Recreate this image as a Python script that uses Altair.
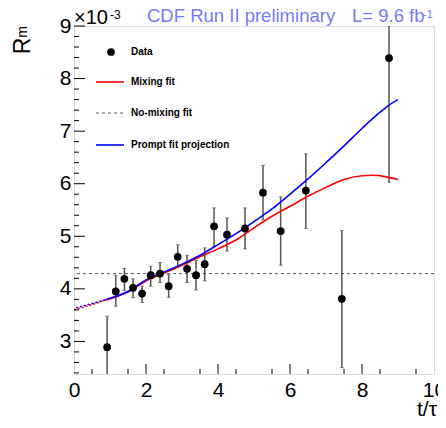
import altair as alt
import pandas as pd

# ---- data (values in units of 1e-3) ----
t_data = [0.92, 1.16, 1.40, 1.64, 1.89, 2.13, 2.39, 2.63, 2.88, 3.14,
          3.39, 3.63, 3.89, 4.25, 4.75, 5.25, 5.74, 6.44, 7.44, 8.75]
r_data = [2.89, 3.95, 4.19, 4.02, 3.91, 4.26, 4.29, 4.05, 4.61, 4.38,
          4.26, 4.47, 5.19, 5.03, 5.15, 5.83, 5.10, 5.87, 3.81, 8.39]
r_lo = [2.30, 3.67, 3.97, 3.83, 3.74, 4.05, 4.12, 3.84, 4.42, 4.12,
        3.98, 4.15, 4.81, 4.72, 4.76, 5.31, 4.45, 5.15, 2.50, 6.03]
r_hi = [3.48, 4.26, 4.39, 4.19, 4.05, 4.43, 4.50, 4.27, 4.84, 4.64,
        4.54, 4.78, 5.54, 5.35, 5.54, 6.35, 5.75, 6.57, 5.11, 10.75]

blue_t = [0.9, 1.5, 2.0, 2.5, 3.0, 3.5, 4.0, 4.5, 5.0, 5.5, 6.0, 6.5, 7.0, 7.5, 8.0, 8.5, 8.8, 9.0]
blue_r = [3.80, 3.95, 4.17, 4.32, 4.47, 4.64, 4.84, 5.05, 5.28, 5.52, 5.80, 6.09, 6.40, 6.72, 7.05, 7.36, 7.52, 7.60]
blue_dot_t = [0.0, 0.45, 0.9]
blue_dot_r = [3.63, 3.71, 3.80]

red_t = [0.9, 1.5, 2.0, 2.5, 3.0, 3.5, 4.0, 4.5, 5.0, 5.5, 6.0, 6.5, 7.0, 7.5, 8.0, 8.3, 8.6, 9.0]
red_r = [3.79, 3.94, 4.15, 4.30, 4.45, 4.61, 4.76, 4.93, 5.16, 5.38, 5.57, 5.76, 5.93, 6.08, 6.15, 6.16, 6.14, 6.08]
red_dot_t = [0.0, 0.45, 0.9]
red_dot_r = [3.60, 3.69, 3.79]

nomix_r = [4.29]

x_major = [0, 2, 4, 6, 8, 10]
y_major = [3, 4, 5, 6, 7, 8, 9]
x_minor = [i * 0.5 for i in range(1, 20) if i % 2 == 1]
y_minor = [round(2.4 + i * 0.2, 2) for i in range(0, 34) if abs(round(2.4 + i * 0.2, 2) % 1) > 1e-6]

legend_labels = ["Data", "Mixing fit", "No-mixing fit", "Prompt fit projection"]

W, H = 360, 348
FONT = "Liberation Sans"
xs = alt.Scale(domain=[0, 10], nice=False, zero=False)
ys = alt.Scale(domain=[2.38, 9.0], nice=False, zero=False)

pts = pd.DataFrame({"t": t_data, "r": r_data, "lo": r_lo, "hi": r_hi})

X = alt.X("t:Q", scale=xs,
          axis=alt.Axis(values=x_major, labelFontSize=21, labelFont=FONT, labelColor="black",
                        ticks=False, domain=False, grid=False, labelPadding=5,
                        labelFlush=False, labelOverlap=False, title=None))
Y = alt.Y("r:Q", scale=ys,
          axis=alt.Axis(values=y_major, labelFontSize=21, labelFont=FONT, labelColor="black",
                        ticks=False, domain=False, grid=False, labelPadding=3,
                        labelFlush=False, labelOverlap=False, title=None))

base = alt.Chart(pts)
err = base.mark_rule(color="#555555", strokeWidth=1.5, clip=True).encode(
    x=X, y=alt.Y("lo:Q", scale=ys), y2="hi:Q")
cap_lo = base.mark_tick(color="#555555", orient="horizontal", size=4, thickness=1, clip=True).encode(
    x=alt.X("t:Q", scale=xs), y=alt.Y("lo:Q", scale=ys))
cap_hi = base.mark_tick(color="#555555", orient="horizontal", size=4, thickness=1, clip=True).encode(
    x=alt.X("t:Q", scale=xs), y=alt.Y("hi:Q", scale=ys))
dots = base.mark_circle(color="black", opacity=1, size=60).encode(
    x=alt.X("t:Q", scale=xs), y=Y)

def curve(tt, rr, color, dash=None, offset=0):
    df = pd.DataFrame({"t": tt, "r": rr})
    kw = dict(color=color, strokeWidth=1.6, interpolate="monotone", clip=True)
    if dash:
        kw["strokeDash"] = dash
        kw["strokeDashOffset"] = offset
    return alt.Chart(df).mark_line(**kw).encode(
        x=alt.X("t:Q", scale=xs), y=alt.Y("r:Q", scale=ys))

red = curve(red_t, red_r, "#ff0000")
blue = curve(blue_t, blue_r, "#0000ff")
red_dot = curve(red_dot_t, red_dot_r, "#ff0000", [2, 2], 0)
blue_dot = curve(blue_dot_t, blue_dot_r, "#0000ff", [2, 2], 2)

nomix = alt.Chart(pd.DataFrame({"r": nomix_r})).mark_rule(
    color="#555555", strokeDash=[3, 3], strokeWidth=1).encode(y=alt.Y("r:Q", scale=ys))

# inward ticks
ymaj = alt.Chart(pd.DataFrame({"v": y_major})).mark_rule(color="black").encode(
    y=alt.Y("v:Q", scale=ys), x=alt.value(0), x2=alt.value(11))
ymin = alt.Chart(pd.DataFrame({"v": y_minor})).mark_rule(color="black").encode(
    y=alt.Y("v:Q", scale=ys), x=alt.value(0), x2=alt.value(5))
xmaj = alt.Chart(pd.DataFrame({"v": x_major[1:-1]})).mark_rule(color="black").encode(
    x=alt.X("v:Q", scale=xs), y=alt.value(H), y2=alt.value(H - 10))
xmin = alt.Chart(pd.DataFrame({"v": x_minor})).mark_rule(color="black").encode(
    x=alt.X("v:Q", scale=xs), y=alt.value(H), y2=alt.value(H - 5))

# legend
leg_y = [26, 56, 87, 119]
leg_df = pd.DataFrame({"label": legend_labels, "y": leg_y})
leg_text = alt.Chart(leg_df).mark_text(align="left", baseline="middle", font=FONT,
                                       fontWeight="bold", fontSize=10, color="black").encode(
    x=alt.value(57), y=alt.Y("y:Q", scale=None), text="label:N")
leg_dot = alt.Chart(pd.DataFrame({"a": [0]})).mark_circle(color="black", opacity=1, size=60).encode(
    x=alt.value(37), y=alt.value(leg_y[0]))
leg_red = alt.Chart(pd.DataFrame({"a": [0]})).mark_rule(color="#ff0000", strokeWidth=1.6).encode(
    x=alt.value(22), x2=alt.value(50), y=alt.value(leg_y[1]))
leg_gray = alt.Chart(pd.DataFrame({"a": [0]})).mark_rule(color="#555555", strokeWidth=1, strokeDash=[3, 3]).encode(
    x=alt.value(22), x2=alt.value(50), y=alt.value(leg_y[2]))
leg_blue = alt.Chart(pd.DataFrame({"a": [0]})).mark_rule(color="#0000ff", strokeWidth=1.6).encode(
    x=alt.value(22), x2=alt.value(50), y=alt.value(leg_y[3]))

def label(txt, x, y, size, color="black", align="left", angle=0, baseline="alphabetic"):
    kw = dict(align=align, baseline=baseline, font=FONT, fontSize=size, color=color)
    if angle:
        kw["angle"] = angle
    return alt.Chart(pd.DataFrame({"s": [txt]})).mark_text(**kw).encode(
        x=alt.value(x), y=alt.value(y), text="s:N")

TITLE_C = "#7878ff"
texts = [
    label("×10", 0, -2, 20),
    label("-3", 36, -7, 12),
    label("CDF Run II preliminary", 73, -4, 18.5, TITLE_C),
    label("L= 9.6 fb", 278, -4, 18.5, TITLE_C),
    label("-1", 349, -8, 11, TITLE_C),
    label("R", -50.7, 20, 23, angle=270, align="center", baseline="middle"),
    label("m", -50.7, 6, 14, angle=270, align="center", baseline="middle"),
    label("t/τ", 363, 390, 21, align="right"),
]

chart = alt.layer(
    nomix, err, cap_lo, cap_hi, red_dot, blue_dot, red, blue, dots,
    ymaj, ymin, xmaj, xmin,
    leg_text, leg_dot, leg_red, leg_gray, leg_blue, *texts
).properties(
    width=W, height=H,
    autosize=alt.AutoSizeParams(type="none"),
    padding={"left": 66, "top": 18, "right": 4, "bottom": 46},
).configure_view(stroke="black", strokeWidth=1.2).configure(background="white")

chart.save("out.html", embed_options={"renderer": "svg", "actions": False})
